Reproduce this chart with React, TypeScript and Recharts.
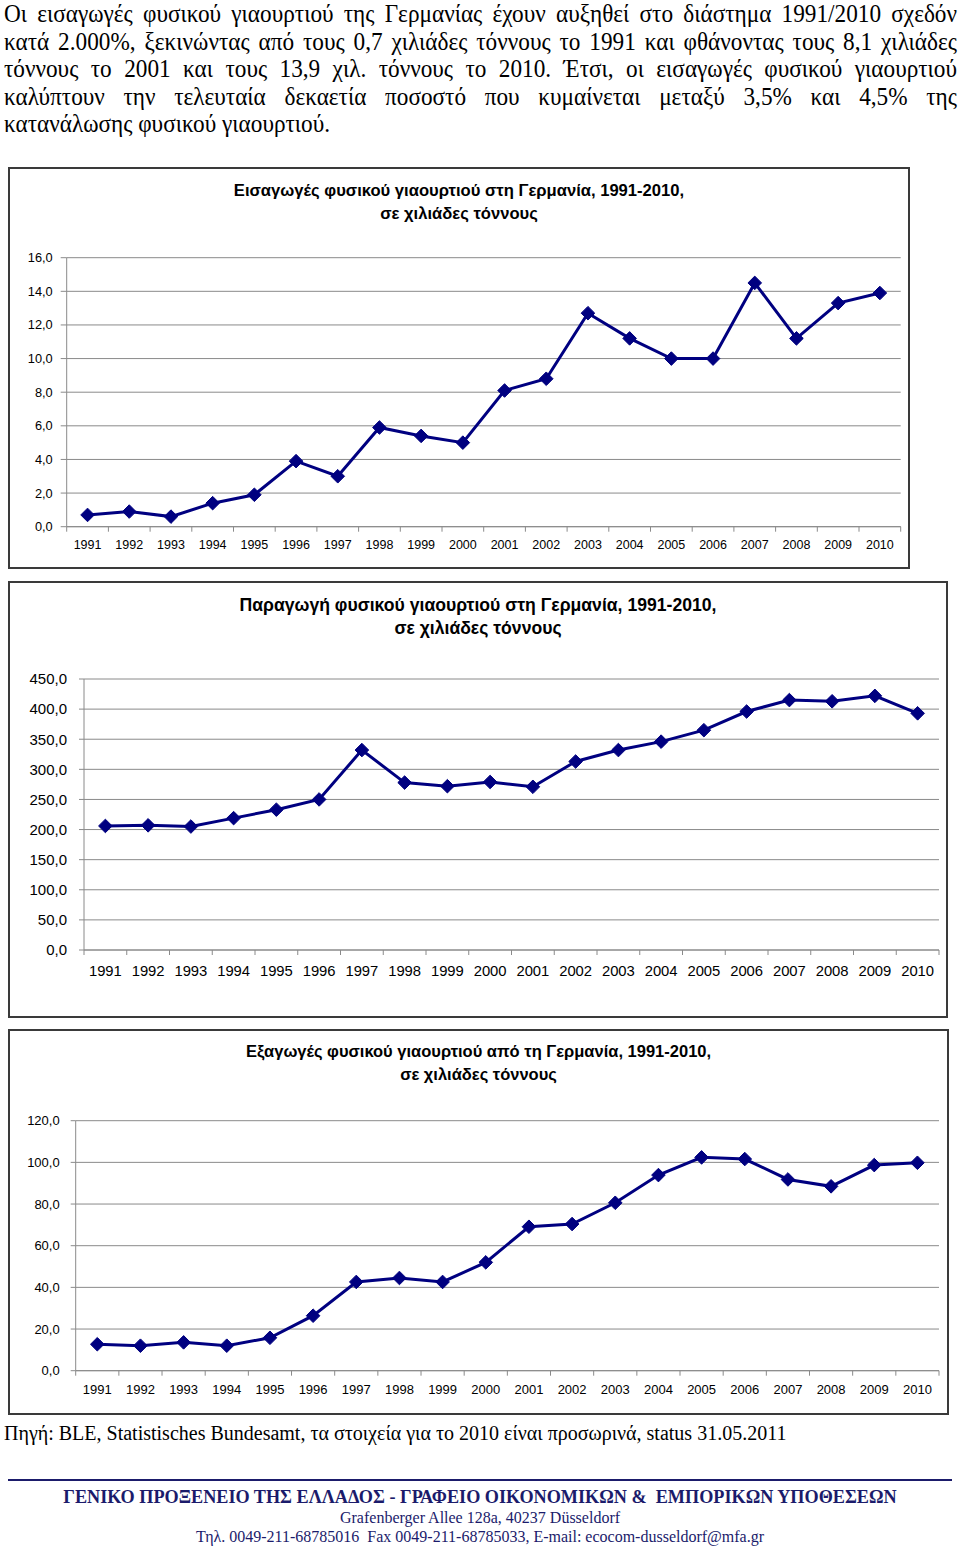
import React from "react";
import { LineChart, Line, XAxis, YAxis, CartesianGrid } from "recharts";

// Years (category axis labels, shared by all three charts)
const YEARS = [
  "1991", "1992", "1993", "1994", "1995", "1996", "1997", "1998", "1999", "2000",
  "2001", "2002", "2003", "2004", "2005", "2006", "2007", "2008", "2009", "2010",
];

// Imports, thousand tonnes
const IMPORTS = [
  0.7, 0.9, 0.6, 1.4, 1.9, 3.9, 3.0, 5.9, 5.4, 5.0,
  8.1, 8.8, 12.7, 11.2, 10.0, 10.0, 14.5, 11.2, 13.3, 13.9,
];
const IMPORT_TICKS = [0, 2, 4, 6, 8, 10, 12, 14, 16];

// Production, thousand tonnes
const PRODUCTION = [
  206, 207, 205, 219, 233, 250, 332, 278, 272, 279,
  271, 313, 332, 346, 365, 396, 415, 413, 422, 393,
];
const PRODUCTION_TICKS = [0, 50, 100, 150, 200, 250, 300, 350, 400, 450];

// Exports, thousand tonnes
const EXPORTS = [
  12.7, 12.0, 13.6, 12.0, 15.8, 26.4, 42.6, 44.5, 42.6, 52.0,
  69.1, 70.4, 80.6, 93.9, 102.4, 101.6, 91.8, 88.5, 98.7, 99.8,
];
const EXPORT_TICKS = [0, 20, 40, 60, 80, 100, 120];

const INTRO_LINES = [
  "Οι εισαγωγές φυσικού γιαουρτιού της Γερμανίας έχουν αυξηθεί στο διάστημα 1991/2010 σχεδόν",
  "κατά 2.000%, ξεκινώντας από τους 0,7 χιλιάδες τόννους το 1991 και φθάνοντας τους 8,1 χιλιάδες",
  "τόννους το 2001 και τους 13,9 χιλ. τόννους το 2010. Έτσι, οι εισαγωγές φυσικού γιαουρτιού",
  "καλύπτουν την τελευταία δεκαετία ποσοστό που κυμαίνεται μεταξύ 3,5% και 4,5% της",
  "κατανάλωσης φυσικού γιαουρτιού.",
];

const NAVY = "#000080";
const GRID = "#8a8a8a";
const FOOT = "#1b1b6b";
const SANS = "'Liberation Sans', Arial, sans-serif";
const SERIF = "'Liberation Serif', 'Times New Roman', serif";

const fmt = (v: number) => v.toFixed(1).replace(".", ",");

const Diamond = (r: number) => (props: any) => {
  const { cx, cy, index } = props;
  if (cx == null || cy == null) return <g key={index} />;
  return (
    <polygon
      key={index}
      points={`${cx},${cy - r} ${cx + r},${cy} ${cx},${cy + r} ${cx - r},${cy}`}
      fill={NAVY}
      stroke={NAVY}
    />
  );
};

// x tick: label at the band centre, tick mark on the band boundaries (Excel style)
const makeXTick = (band: number, size: number, gap: number, fontSize: number, count: number) =>
  (props: any) => {
    const { x, y, payload, index } = props;
    const y0 = y - size - gap;
    return (
      <g>
        <line x1={x - band / 2} x2={x - band / 2} y1={y0} y2={y0 + size} stroke={GRID} />
        {index === count - 1 && (
          <line x1={x + band / 2} x2={x + band / 2} y1={y0} y2={y0 + size} stroke={GRID} />
        )}
        <text x={x} y={y} dy="0.71em" textAnchor="middle" fontSize={fontSize} fill="#000" fontFamily={SANS}>
          {payload.value}
        </text>
      </g>
    );
  };

type PanelProps = {
  title: string[];
  values: number[];
  ticks: number[];
  box: { left: number; top: number; w: number; h: number };
  plot: { left: number; right: number; top: number; bottom: number };
  titleTop: number;
  titleSize: number;
  yFont: number;
  xFont: number;
  yTickSize: number;
  yTickGap: number;
  xTickGap: number;
  dot: number;
};

function Panel(p: PanelProps) {
  const data = YEARS.map((year, i) => ({ year, value: p.values[i] }));
  const top = p.plot.top - p.box.top;
  const right = p.box.left + p.box.w - p.plot.right;
  const yWidth = p.plot.left - p.box.left;
  const below = p.box.top + p.box.h - p.plot.bottom;
  const band = (p.plot.right - p.plot.left) / YEARS.length;
  return (
    <>
      <div
        style={{
          position: "absolute",
          left: p.box.left,
          top: p.box.top,
          width: p.box.w,
          height: p.box.h,
          border: "2px solid #3a3a3a",
          boxSizing: "border-box",
          background: "#fff",
        }}
      />
      <div
        style={{
          position: "absolute",
          left: p.box.left,
          top: p.box.top + p.titleTop,
          width: p.box.w,
          textAlign: "center",
          fontFamily: SANS,
          fontWeight: "bold",
          fontSize: p.titleSize,
          lineHeight: "23px",
        }}
      >
        {p.title.map((t) => (
          <div key={t}>{t}</div>
        ))}
      </div>
      <div style={{ position: "absolute", left: p.box.left, top: p.box.top }}>
        <LineChart
          width={p.box.w}
          height={p.box.h}
          data={data}
          margin={{ top, right, bottom: below - 30, left: 0 }}
        >
          <CartesianGrid vertical={false} stroke={GRID} />
          <XAxis
            dataKey="year"
            scale="band"
            height={30}
            interval={0}
            axisLine={{ stroke: GRID }}
            tickLine={false}
            tickSize={5}
            tickMargin={p.xTickGap}
            tick={makeXTick(band, 5, p.xTickGap, p.xFont, YEARS.length)}
          />
          <YAxis
            width={yWidth}
            domain={[p.ticks[0], p.ticks[p.ticks.length - 1]]}
            ticks={p.ticks}
            interval={0}
            tickFormatter={fmt}
            axisLine={{ stroke: GRID }}
            tickLine={{ stroke: GRID }}
            tickSize={p.yTickSize}
            tickMargin={p.yTickGap}
            tick={{ fontSize: p.yFont, fill: "#000", fontFamily: SANS }}
          />
          <YAxis
            yAxisId="frame"
            orientation="right"
            width={0}
            type="number"
            domain={[0, 1]}
            tick={false}
            tickLine={false}
            axisLine={{ stroke: GRID }}
          />
          <Line
            type="linear"
            dataKey="value"
            stroke={NAVY}
            strokeWidth={3}
            dot={Diamond(p.dot)}
            activeDot={false}
            isAnimationActive={false}
          />
        </LineChart>
      </div>
    </>
  );
}

export default function App() {
  return (
    <div
      style={{
        position: "absolute",
        left: 0,
        top: 0,
        width: 960,
        height: 1553,
        background: "#fff",
        overflow: "hidden",
      }}
    >
      <div
        style={{
          position: "absolute",
          left: 4,
          top: 0,
          width: 953 / 0.93,
          transform: "scaleX(0.93)",
          transformOrigin: "0 0",
          fontFamily: SERIF,
          fontSize: 25,
          lineHeight: "27.6px",
          color: "#000",
        }}
      >
        {INTRO_LINES.map((line, i) => (
          <div
            key={i}
            style={{
              textAlign: "justify",
              textAlignLast: i < INTRO_LINES.length - 1 ? "justify" : "left",
              whiteSpace: i < INTRO_LINES.length - 1 ? "normal" : "nowrap",
            }}
          >
            {line}
          </div>
        ))}
      </div>

      <Panel
        title={["Εισαγωγές φυσικού γιαουρτιού στη Γερμανία, 1991-2010,", "σε χιλιάδες τόννους"]}
        values={IMPORTS}
        ticks={IMPORT_TICKS}
        box={{ left: 8, top: 167, w: 902, h: 402 }}
        plot={{ left: 66.7, right: 900.7, top: 257.7, bottom: 526.7 }}
        titleTop={12}
        titleSize={16.6}
        yFont={12.8}
        xFont={12.5}
        yTickSize={6}
        yTickGap={8}
        xTickGap={8}
        dot={6.8}
      />

      <Panel
        title={["Παραγωγή φυσικού γιαουρτιού στη Γερμανία, 1991-2010,", "σε χιλιάδες τόννους"]}
        values={PRODUCTION}
        ticks={PRODUCTION_TICKS}
        box={{ left: 8, top: 581, w: 940, h: 437 }}
        plot={{ left: 84, right: 939, top: 679, bottom: 950 }}
        titleTop={13}
        titleSize={17.6}
        yFont={15}
        xFont={14.8}
        yTickSize={5}
        yTickGap={12}
        xTickGap={10}
        dot={6.8}
      />

      <Panel
        title={["Εξαγωγές φυσικού γιαουρτιού από τη Γερμανία, 1991-2010,", "σε χιλιάδες τόννους"]}
        values={EXPORTS}
        ticks={EXPORT_TICKS}
        box={{ left: 8, top: 1029, w: 941, h: 386 }}
        plot={{ left: 75.7, right: 939, top: 1120.7, bottom: 1370.7 }}
        titleTop={11}
        titleSize={16.5}
        yFont={13}
        xFont={13}
        yTickSize={5}
        yTickGap={11}
        xTickGap={9}
        dot={6.8}
      />

      <div
        style={{
          position: "absolute",
          left: 4,
          top: 1420,
          fontFamily: SERIF,
          fontSize: 20,
          lineHeight: "26px",
          whiteSpace: "nowrap",
        }}
      >
        Πηγή: BLE, Statistisches Bundesamt, τα στοιχεία για το 2010 είναι προσωρινά, status 31.05.2011
      </div>

      <div style={{ position: "absolute", left: 8, top: 1479, width: 944, height: 2, background: FOOT }} />

      <div
        style={{
          position: "absolute",
          left: 0,
          top: 1487,
          width: 960,
          textAlign: "center",
          fontFamily: SERIF,
          color: FOOT,
          whiteSpace: "nowrap",
        }}
      >
        <div style={{ fontWeight: "bold", fontSize: 18.2, lineHeight: "21px" }}>
          ΓΕΝΙΚΟ ΠΡΟΞΕΝΕΙΟ ΤΗΣ ΕΛΛΑΔΟΣ - ΓΡΑΦΕΙΟ ΟΙΚΟΝΟΜΙΚΩΝ &amp;&nbsp; ΕΜΠΟΡΙΚΩΝ ΥΠΟΘΕΣΕΩΝ
        </div>
        <div style={{ fontSize: 16, lineHeight: "19px" }}>Grafenberger Allee 128a, 40237 Düsseldorf</div>
        <div style={{ fontSize: 16, lineHeight: "19px" }}>
          Τηλ. 0049-211-68785016&nbsp; Fax 0049-211-68785033, E-mail: ecocom-dusseldorf@mfa.gr
        </div>
      </div>
    </div>
  );
}
